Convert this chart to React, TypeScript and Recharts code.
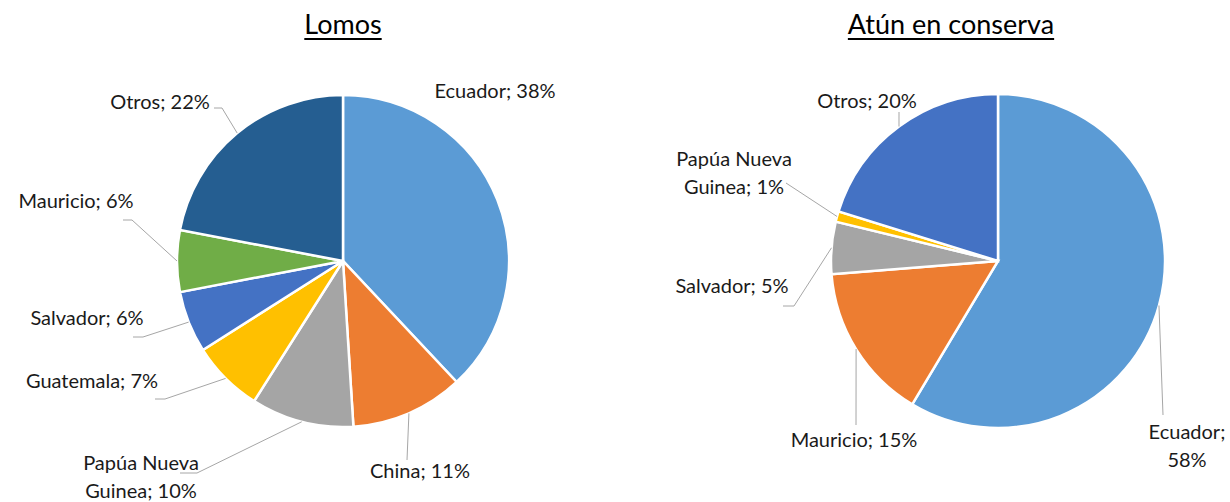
import { PieChart, Pie, Cell } from 'recharts';

const lomosNames = ['Ecuador', 'China', 'Papúa Nueva Guinea', 'Guatemala', 'Salvador', 'Mauricio', 'Otros'];
const lomosValues = [38, 11, 10, 7, 6, 6, 22];
const lomosColors = ['#5B9BD5', '#ED7D31', '#A5A5A5', '#FFC000', '#4472C4', '#70AD47', '#255E91'];

const atunNames = ['Ecuador', 'Mauricio', 'Salvador', 'Papúa Nueva Guinea', 'Otros'];
const atunValues = [58, 15, 5, 1, 20];
const atunColors = ['#5B9BD5', '#ED7D31', '#A5A5A5', '#FFC000', '#4472C4'];

const FONT = 'Lato, "Open Sans", sans-serif';
const RAD = Math.PI / 180;

type LabelSpot = {
  x: number; // label centre, relative to pie centre
  y: number;
  split?: number; // words on the first line
  leader?: number[][]; // points after the slice edge
};

// where Excel put each data label (relative to the pie centre)
const lomosLabels: LabelSpot[] = [
  { x: 152, y: -171 },
  { x: 77, y: 209, leader: [[64, 199]] },
  { x: -202, y: 201, split: 2, leader: [[-146, 212], [-163, 212]] },
  { x: -251, y: 119, leader: [[-178, 138], [-188, 138]] },
  { x: -256, y: 56, leader: [[-200, 76], [-210, 76]] },
  { x: -267, y: -61, leader: [[-211, -41], [-220, -41]] },
  { x: -183, y: -160, leader: [[-121, -153], [-129, -153]] },
];

const atunLabels: LabelSpot[] = [
  { x: 189, y: 170, split: 1, leader: [[165, 154]] },
  { x: -144, y: 178, leader: [[-142, 164]] },
  { x: -266, y: 24, leader: [[-204, 45], [-215, 45]] },
  { x: -264, y: -103, split: 2, leader: [[-212, -78]] },
  { x: -131, y: -161, leader: [[-99, -149]] },
];

const toRows = (names: string[], values: number[]) =>
  names.map((name, i) => ({ name, value: values[i] }));

function makeLabel(spots: LabelSpot[]) {
  return (props: any) => {
    const { cx, cy, midAngle, outerRadius, index, name, value } = props;
    const spot = spots[index];
    const text = `${name}; ${value}%`;
    const words = text.split(' ');
    const lines = spot.split
      ? [words.slice(0, spot.split).join(' '), words.slice(spot.split).join(' ')]
      : [text];
    const sx = cx + outerRadius * Math.cos(-midAngle * RAD);
    const sy = cy + outerRadius * Math.sin(-midAngle * RAD);
    const pts = spot.leader
      ? [[sx, sy], ...spot.leader.map(([px, py]) => [cx + px, cy + py])]
      : null;
    const lineH = 28;
    const y0 = cy + spot.y;
    return (
      <g key={`lbl-${index}`}>
        {pts && (
          <polyline
            points={pts.map((p) => p.join(',')).join(' ')}
            fill="none"
            stroke="#A6A6A6"
            strokeWidth={1}
          />
        )}
        {lines.map((ln, i) => (
          <text
            key={i}
            x={cx + spot.x}
            y={y0 + i * lineH}
            textAnchor="middle"
            dominantBaseline="central"
            fontFamily={FONT}
            fontSize={20}
            fill="#1a1a1a"
          >
            {ln}
          </text>
        ))}
      </g>
    );
  };
}

const titleStyle = (left: number): React.CSSProperties => ({
  position: 'absolute',
  top: 7,
  left,
  width: 300,
  textAlign: 'center',
  fontFamily: FONT,
  fontSize: 27,
  textDecoration: 'underline',
  textUnderlineOffset: 4,
  textDecorationThickness: 2,
  color: '#000',
  lineHeight: '34px',
});

export default function App() {
  return (
    <div style={{ position: 'absolute', left: 0, top: 0, width: 1230, height: 502, background: '#fff' }}>
      <div style={titleStyle(343 - 150)}>Lomos</div>
      <div style={titleStyle(951 - 150)}>Atún en conserva</div>
      <PieChart width={1230} height={502} margin={{ top: 0, right: 0, bottom: 0, left: 0 }}>
        <Pie
          data={toRows(lomosNames, lomosValues)}
          dataKey="value"
          nameKey="name"
          cx={343}
          cy={261}
          outerRadius={166}
          startAngle={90}
          endAngle={-270}
          stroke="#fff"
          strokeWidth={2.5}
          label={makeLabel(lomosLabels)}
          labelLine={false}
          isAnimationActive={false}
        >
          {lomosColors.map((c, i) => (
            <Cell key={i} fill={c} />
          ))}
        </Pie>
        <Pie
          data={toRows(atunNames, atunValues)}
          dataKey="value"
          nameKey="name"
          cx={998}
          cy={261}
          outerRadius={167}
          startAngle={90}
          endAngle={-270}
          stroke="#fff"
          strokeWidth={2.5}
          label={makeLabel(atunLabels)}
          labelLine={false}
          isAnimationActive={false}
        >
          {atunColors.map((c, i) => (
            <Cell key={i} fill={c} />
          ))}
        </Pie>
      </PieChart>
    </div>
  );
}
